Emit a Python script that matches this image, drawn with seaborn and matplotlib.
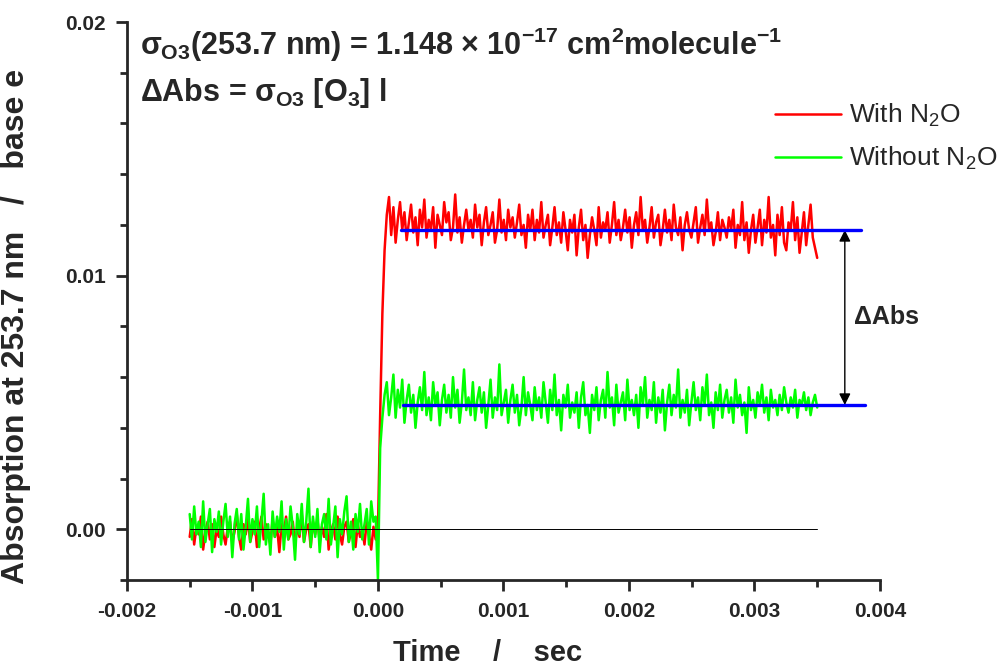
import numpy as np
import pandas as pd
import seaborn as sns
import matplotlib
matplotlib.use("Agg")
import matplotlib.pyplot as plt
from matplotlib.ticker import MultipleLocator, FormatStrFormatter

# absorbance traces, in units of 1e-4 (base e)
red_base = [-3, 4, -6, 1, -2, 5, -8, -1, 3, -4, 2, -7, 0, -3,
            5, -2, -6, 1, 3, -5, -1, 6, -3, -8, 2, -2, 4, -5,
            -1, 3, -7, 0, 5, -4, 2, -2, -6, 4, -3, 1, -9, 2,
            -1, 5, -4, -2, 3, -6, 1, -3, 6, -5, 0, 2, -7, 3,
            -2, 4, -5, 1, -3, 6, -8, -1, 2, -4, 5, -2, -6, 1,
            3, -5, -1, 4, -7, 2, -3, 0, -6, 3, -2, -8, 1, -4]
red_post = [0, 45, 85, 110,
            124, 131, 116, 127, 113, 122, 129, 118, 125, 114, 121, 128, 117, 123,
            112, 126, 119, 130, 115, 122, 118, 127, 111, 124, 120, 116, 129, 121,
            125, 114, 119, 132, 117, 123, 113, 120, 126, 118, 122, 115, 128, 119,
            124, 112, 121, 127, 116, 120, 125, 113, 118, 130, 117, 122, 114, 126,
            119, 123, 115, 121, 128, 116, 120, 111, 124, 118, 126, 114, 122, 117,
            129, 115, 120, 124, 112, 119, 127, 116, 121, 113, 125, 118, 110, 122,
            117, 124, 108, 119, 126, 114, 120, 107, 116, 123, 118, 112, 127, 115,
            121, 118, 125, 113, 120, 129, 116, 122, 114, 119, 126, 117, 123, 111,
            120, 125, 116, 131, 118, 122, 113, 119, 127, 115, 121, 124, 112, 118,
            126, 117, 122, 114, 128, 119, 116, 123, 110, 120, 125, 118, 115, 121,
            127, 113, 119, 124, 116, 130, 118, 121, 112, 117, 125, 114, 122, 119,
            115, 123, 118, 126, 111, 120, 116, 129, 114, 121, 109, 118, 124, 113,
            119, 126, 112, 122, 117, 131, 115, 120, 108, 124, 116, 127, 113, 110,
            121, 118, 129, 114, 123, 109, 117, 125, 112, 120, 128, 115, 111, 107]
green_base = [6, -4, 9, -2, 3, -7, 11, -5, 2, 8, -9, 4, -1, 7,
              -6, 3, 10, -3, 5, -11, 2, 8, -4, 6, -8, 1, 12, -5,
              4, -2, 9, -7, 3, 14, -6, 2, -10, 7, -3, 5, -1, 11,
              -8, 4, -4, 9, 1, -12, 6, -2, 10, -5, 3, 16, -7, 5,
              -3, 8, -9, 2, 6, -4, 12, -6, 1, 9, -11, 4, -2, 7,
              13, -5, 3, -8, 6, -1, 10, -4, 2, 8, -6, 11, 3, 5]
green_post = [-20, 32, 44, 53,
              58, 45, 52, 61, 44, 55, 48, 59, 42, 51, 57, 46, 53, 40,
              50, 56, 47, 62, 45, 52, 43, 58, 49, 54, 41, 51, 57, 46,
              53, 44, 60, 48, 55, 42, 50, 63, 47, 52, 45, 58, 43, 51,
              56, 46, 54, 40, 49, 59, 44, 52, 47, 65, 45, 50, 55, 42,
              51, 57, 46, 53, 41, 48, 60, 45, 54, 49, 43, 56, 47, 52,
              44, 58, 50, 42, 55, 47, 61, 45, 51, 39, 53, 48, 57, 44,
              50, 46, 54, 40, 52, 58, 45, 49, 38, 53, 47, 56, 43, 51,
              55, 44, 62, 48, 52, 41, 57, 46, 50, 54, 43, 59, 47, 51,
              45, 53, 40, 56, 49, 60, 44, 51, 47, 58, 42, 52, 46, 55,
              39, 50, 57, 45, 53, 48, 63, 44, 51, 46, 55, 41, 50, 58,
              47, 52, 43, 56, 49, 61, 45, 50, 40, 54, 47, 57, 44, 51,
              55, 46, 52, 42, 59, 48, 53, 45, 50, 38, 56, 47, 51, 44,
              54, 49, 57, 46, 52, 43, 55, 48, 51, 45, 53, 47, 56, 50,
              46, 52, 48, 55, 44, 51, 49, 54, 47, 52, 45, 50, 53, 48]

t_start, t_flash, t_end, dt = -0.0015, 0.0, 0.0035, 0.000018

# fitted plateau levels and the span of each fit line
fit_levels = [0.0118, 0.0049]
fit_start = [0.00018, 0.0002]
fit_end = [0.00385, 0.00388]
arrow_x = 0.00372

labels = ["With N$_\\mathregular{2}$O", "Without N$_\\mathregular{2}$O"]


def trace(base, post, name):
    t = np.concatenate([np.linspace(t_start, t_flash - dt, len(base)),
                        np.linspace(t_flash, t_end, len(post))])
    a = np.array(base + post, dtype=float) * 1e-4
    return pd.DataFrame({"time": t, "abs": a, "series": name})


df = pd.concat([trace(red_base, red_post, labels[0]),
                trace(green_base, green_post, labels[1])], ignore_index=True)

sns.set_style("ticks")
plt.rcParams["font.family"] = ["Liberation Sans", "DejaVu Sans"]
plt.rcParams["mathtext.fontset"] = "custom"
plt.rcParams["mathtext.rm"] = "Liberation Sans:bold"
plt.rcParams["mathtext.it"] = "Liberation Sans:bold"
plt.rcParams["mathtext.bf"] = "Liberation Sans:bold"
plt.rcParams["axes.unicode_minus"] = False

fig = plt.figure(figsize=(10.02, 6.71), dpi=100)
ax = fig.add_axes([0.1267, 0.1356, 0.7515, 0.8316])

sns.lineplot(data=df, x="time", y="abs", hue="series",
             palette={labels[0]: "#ff0000", labels[1]: "#00ff00"},
             linewidth=1.8, ax=ax, sort=False, estimator=None)

ax.plot([t_start, t_end], [0, 0], color="black", lw=0.7, zorder=5)
for lvl, x0, x1 in zip(fit_levels, fit_start, fit_end):
    ax.plot([x0, x1], [lvl, lvl], color="#0000ff", lw=2.4, zorder=6)

ax.annotate("", xy=(arrow_x, fit_levels[0]), xytext=(arrow_x, fit_levels[1]),
            arrowprops=dict(arrowstyle="<|-|>", color="black", lw=1.0,
                            mutation_scale=17, shrinkA=0, shrinkB=0))
ax.text(arrow_x + 0.00007, (fit_levels[0] + fit_levels[1]) / 2, "\u0394Abs",
        fontsize=18, fontweight="bold", va="center", ha="left")

ax.text(0.017, 0.9588, r"$\sigma_{\mathrm{O3}}$(253.7 nm) = 1.148 $\times$ 10$^{-17}$ cm$^{2}$molecule$^{-1}$",
        transform=ax.transAxes, fontsize=22, fontweight="bold", va="center")
ax.text(0.017, 0.873, r"$\Delta$Abs = $\sigma_{\mathrm{O3}}$ [O$_{3}$] l",
        transform=ax.transAxes, fontsize=22, fontweight="bold", va="center")

ax.set_xlim(-0.002, 0.004)
ax.set_ylim(-0.002, 0.02)
ax.xaxis.set_major_locator(MultipleLocator(0.001))
ax.xaxis.set_minor_locator(MultipleLocator(0.0005))
ax.yaxis.set_major_locator(MultipleLocator(0.01))
ax.yaxis.set_minor_locator(MultipleLocator(0.002))
ax.xaxis.set_major_formatter(FormatStrFormatter("%.3f"))
ax.yaxis.set_major_formatter(FormatStrFormatter("%.2f"))

sns.despine(ax=ax)
for s in ("left", "bottom"):
    ax.spines[s].set_linewidth(2.0)
ax.tick_params(which="major", direction="out", length=8, width=2.0, labelsize=15)
ax.tick_params(axis="x", which="major", pad=8)
ax.tick_params(axis="y", which="major", pad=7)
ax.tick_params(which="minor", direction="out", length=5, width=2.0)
for lab in ax.get_xticklabels() + ax.get_yticklabels():
    lab.set_fontweight("bold")

ax.set_xlabel("Time    /    sec", fontsize=21, fontweight="bold")
ax.xaxis.set_label_coords((488 - 127) / 753, -0.105)
ax.set_ylabel("Absorption at 253.7 nm   /   base e", fontsize=23, fontweight="bold")
ax.yaxis.set_label_coords(-0.128, 0.455)

leg = ax.legend(loc="center left", bbox_to_anchor=(775 / 1002, 1 - 137 / 671),
                bbox_transform=fig.transFigure, frameon=False, borderpad=0,
                borderaxespad=0, fontsize=19, handlelength=2.5,
                handletextpad=0.3, labelspacing=0.6)
for h in leg.get_lines():
    h.set_linewidth(1.8)

fig.savefig("out.png", dpi=100)
